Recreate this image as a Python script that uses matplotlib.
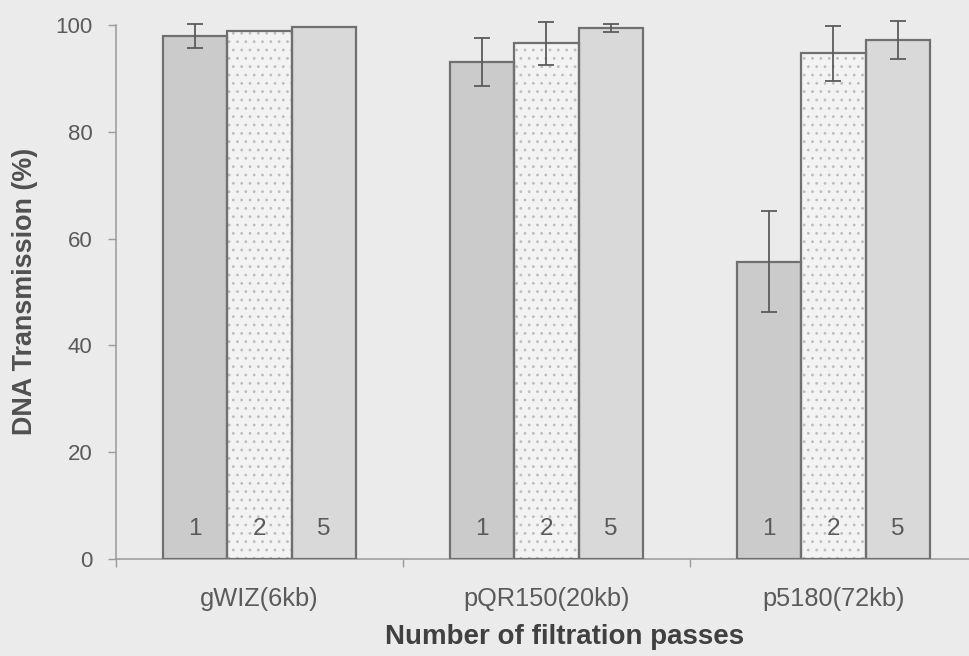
import numpy as np
import matplotlib.pyplot as plt

plt.rcParams['font.family'] = ['Liberation Sans', 'DejaVu Sans']

plasmids = ["gWIZ(6kb)", "pQR150(20kb)", "p5180(72kb)"]
passes = ["1", "2", "5"]
# mean transmission (%) and error for each number of passes
means = {
    "1": [97.9, 93.1, 55.7],
    "2": [98.9, 96.6, 94.7],
    "5": [99.7, 99.4, 97.2],
}
errs = {
    "1": [2.2, 4.5, 9.5],
    "2": [0.0, 4.0, 5.1],
    "5": [0.0, 0.8, 3.6],
}

bg = "#ebebeb"
fills = {"1": "#cbcbcb", "2": "#f3f3f3", "5": "#d9d9d9"}
hatches = {"1": None, "2": "..", "5": None}
edge = "#707070"
text_col = "#5a5a5a"

fig = plt.figure(figsize=(9.7, 6.56), dpi=100, facecolor=bg)
ax = fig.add_axes([0.1196, 0.1479, 0.8876, 0.814])
ax.set_facecolor(bg)

x = np.arange(len(plasmids))
w = 0.224
plt.rcParams['hatch.linewidth'] = 0.8

for i, p in enumerate(passes):
    xp = x + (i - 1) * w
    # fill (with dotted hatch for 2 passes) then outline on top
    ax.bar(xp, means[p], w, color=fills[p], hatch=hatches[p],
           edgecolor="#bdbdbd", linewidth=0, zorder=2)
    ax.bar(xp, means[p], w, fill=False, edgecolor=edge, linewidth=1.6, zorder=3)
    e = np.array(errs[p])
    m = e > 0
    eb = ax.errorbar(xp[m], np.array(means[p])[m], yerr=e[m], fmt="none",
                     ecolor="#5c5c5c", elinewidth=1.3, capsize=6, capthick=1.3,
                     zorder=4)
    for art in eb.lines[1] + eb.lines[2]:
        art.set_clip_on(False)
    for xi in xp:
        ax.text(xi, 5.6, p, ha="center", va="center", fontsize=17.5,
                color=text_col, zorder=5)

ax.set_xlim(-0.5, 2.5)
ax.set_ylim(0, 100)
ax.set_yticks([0, 20, 40, 60, 80, 100])
ax.set_xticks([-0.5, 0.5, 1.5, 2.5])
ax.set_xticklabels([])
ax.set_xticks(x, minor=True)
ax.set_xticklabels(plasmids, minor=True, fontsize=18.3, color=text_col)
ax.tick_params(axis="x", which="minor", length=0, pad=20)
ax.tick_params(axis="x", which="major", length=6, color="#9a9a9a", width=1)
ax.tick_params(axis="y", length=6, color="#9a9a9a", width=1,
               labelsize=16, labelcolor=text_col, pad=11)

for s in ["top", "right"]:
    ax.spines[s].set_visible(False)
for s in ["left", "bottom"]:
    ax.spines[s].set_color("#9a9a9a")
    ax.spines[s].set_linewidth(1.1)

fig.text(0.026, 0.556, "DNA Transmission (%)", rotation=90, ha="center",
         va="center", fontsize=19.4, fontweight="bold", color="#505050")
fig.text(0.582, 0.029, "Number of filtration passes", ha="center",
         va="center", fontsize=20, fontweight="bold", color="#404040")

fig.savefig("out.png", dpi=100, facecolor=bg)
